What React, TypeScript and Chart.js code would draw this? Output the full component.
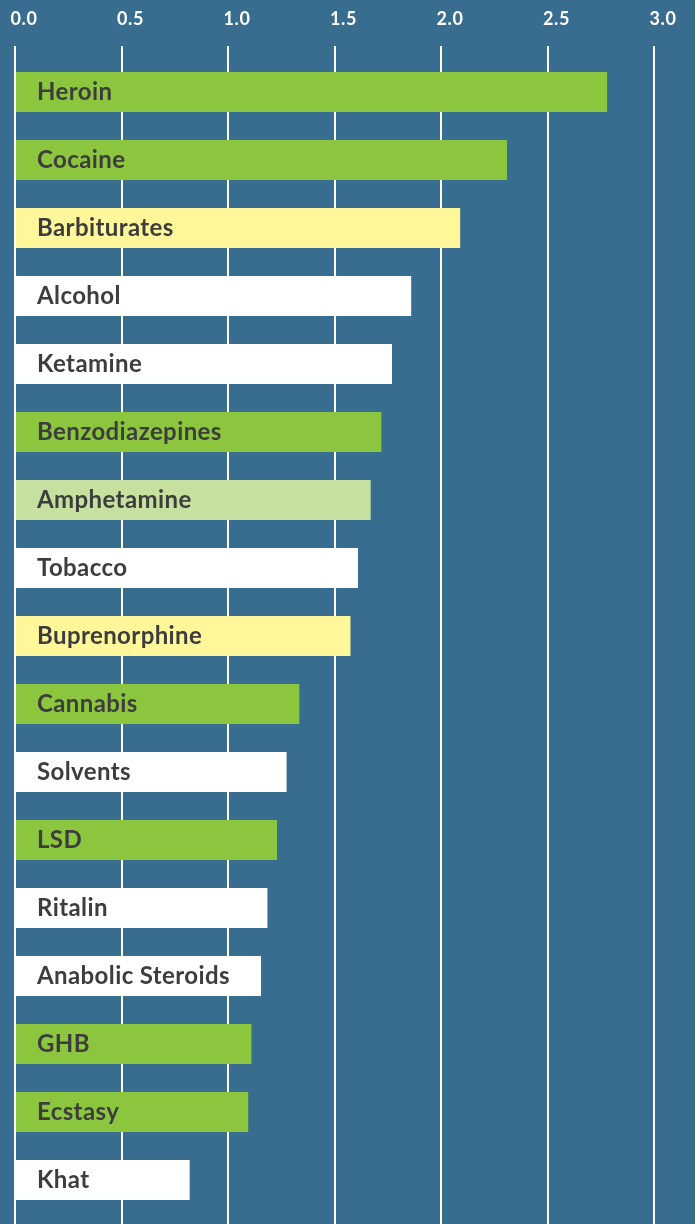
import React, { useEffect, useRef } from "react";
import { Chart, registerables } from "chart.js";

Chart.register(...registerables);

const drugs = [
  "Heroin", "Cocaine", "Barbiturates", "Alcohol", "Ketamine", "Benzodiazepines",
  "Amphetamine", "Tobacco", "Buprenorphine", "Cannabis", "Solvents", "LSD",
  "Ritalin", "Anabolic Steroids", "GHB", "Ecstasy", "Khat",
];
const harmScores = [
  2.78, 2.31, 2.09, 1.86, 1.77, 1.72, 1.67, 1.61, 1.575, 1.335, 1.275, 1.23,
  1.185, 1.155, 1.11, 1.095, 0.82,
];
const barGroup = [
  "green", "green", "yellow", "white", "white", "green", "pale", "white", "yellow",
  "green", "white", "green", "white", "white", "green", "green", "white",
];
const groupColors: Record<string, string> = {
  green: "#8cc63f",
  yellow: "#fff799",
  pale: "#c5e09f",
  white: "#ffffff",
};
const barColors = barGroup.map((g) => groupColors[g]);
const xTicks = [0, 0.5, 1, 1.5, 2, 2.5, 3];

const BG = "#396d8f";

const spacingPlugin = {
  id: "spacing",
  beforeDraw(chart: any) {
    chart.ctx.letterSpacing = "0.6px";
  },
  afterDraw(chart: any) {
    chart.ctx.letterSpacing = "0px";
  },
};

// extends the vertical grid lines below the last category band to the canvas edge
const gridExtendPlugin = {
  id: "gridExtend",
  beforeDatasetsDraw(chart: any) {
    const ctx = chart.ctx;
    const xs = chart.scales.x;
    ctx.save();
    ctx.strokeStyle = "#ffffff";
    ctx.lineWidth = 2;
    xs.ticks.forEach((t: any) => {
      const px = Math.round(xs.getPixelForValue(t.value));
      ctx.beginPath();
      ctx.moveTo(px, chart.chartArea.bottom - 1);
      ctx.lineTo(px, chart.height);
      ctx.stroke();
    });
    ctx.restore();
  },
};

const labelPlugin = {
  id: "barLabels",
  afterDatasetsDraw(chart: any) {
    const ctx = chart.ctx;
    const meta = chart.getDatasetMeta(0);
    ctx.save();
    ctx.letterSpacing = "0.4px";
    ctx.font = "bold 24px Lato";
    ctx.fillStyle = "#3d3d3d";
    ctx.textBaseline = "middle";
    ctx.textAlign = "left";
    meta.data.forEach((bar: any, i: number) => {
      ctx.fillText(drugs[i], chart.chartArea.left + 22, bar.y);
    });
    ctx.restore();
  },
};

export default function App() {
  const ref = useRef<HTMLCanvasElement>(null);
  useEffect(() => {
    document.body.style.margin = "0";
    document.body.style.background = BG;
    const chart = new Chart(ref.current!, {
      type: "bar",
      data: {
        labels: drugs,
        datasets: [
          {
            data: harmScores,
            backgroundColor: barColors,
            borderWidth: 0,
            barPercentage: 40 / 68,
            categoryPercentage: 1,
          },
        ],
      },
      options: {
        indexAxis: "y",
        animation: false,
        responsive: false,
        maintainAspectRatio: false,
        layout: { padding: { top: 0, left: 15, right: 41, bottom: 10 } },
        plugins: { legend: { display: false }, tooltip: { enabled: false } },
        scales: {
          x: {
            position: "top",
            min: 0,
            max: 3,
            afterBuildTicks: (scale: any) => {
              scale.ticks = xTicks.map((v) => ({ value: v }));
            },
            afterFit: (scale: any) => {
              scale.height = 58;
              scale.paddingLeft = 0;
              scale.paddingRight = 0;
            },
            ticks: {
              color: "#ffffff",
              font: { family: "Lato", weight: "bold", size: 18 },
              padding: 16,
              labelOffset: 9,
              callback: (v: any) => Number(v).toFixed(1),
            },
            grid: { color: "#ffffff", lineWidth: 2, tickLength: 12, drawTicks: true },
            border: { display: false },
          },
          y: { display: false },
        },
      },
      plugins: [spacingPlugin, gridExtendPlugin, labelPlugin],
    });
    return () => chart.destroy();
  }, []);
  return (
    <div style={{ background: BG, width: 695, height: 1224 }}>
      <canvas ref={ref} width={695} height={1224} style={{ display: "block" }} />
    </div>
  );
}
